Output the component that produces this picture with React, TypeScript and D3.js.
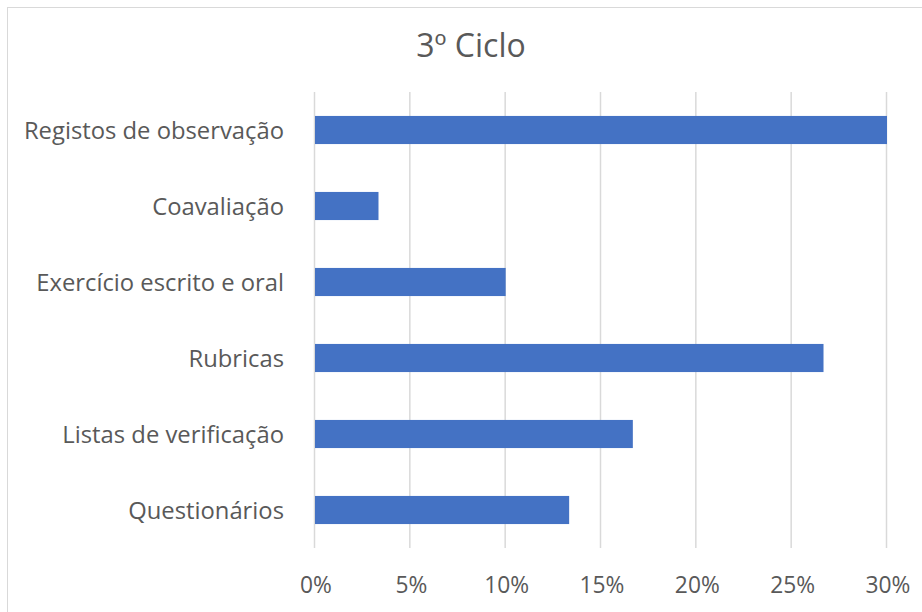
import React, { useEffect, useRef } from "react";
import * as d3 from "d3";

const categories = [
  "Registos de observação",
  "Coavaliação",
  "Exercício escrito e oral",
  "Rubricas",
  "Listas de verificação",
  "Questionários",
];
const values = [30, 3.33, 10, 26.67, 16.67, 13.33];
const xTicks = [0, 5, 10, 15, 20, 25, 30];
const title = "3º Ciclo";

const W = 922;
const H = 612;
const FONT = "'Open Sans', Lato, sans-serif";

export default function App() {
  const ref = useRef<SVGSVGElement | null>(null);

  useEffect(() => {
    const svg = d3.select(ref.current);
    svg.selectAll("*").remove();

    const x = d3.scaleLinear().domain([0, 30]).range([314, 886]);
    const y = d3
      .scaleBand()
      .domain(categories)
      .range([92, 548])
      .paddingInner(0.63)
      .paddingOuter(0.315);

    svg.append("rect")
      .attr("x", 7.5)
      .attr("y", 7.5)
      .attr("width", W + 20)
      .attr("height", H + 20)
      .attr("fill", "#fff")
      .attr("stroke", "#d9d9d9");

    svg.append("text")
      .attr("x", 471)
      .attr("y", 57)
      .attr("text-anchor", "middle")
      .attr("font-family", FONT)
      .attr("font-size", 32)
      .attr("fill", "#595959")
      .text(title);

    svg.append("g")
      .selectAll("line")
      .data(xTicks)
      .join("line")
      .attr("x1", d => x(d) + 0.5)
      .attr("x2", d => x(d) + 0.5)
      .attr("y1", 92)
      .attr("y2", 548)
      .attr("stroke", "#d9d9d9")
      .attr("stroke-width", 1.5);

    svg.append("g")
      .selectAll("rect")
      .data(values)
      .join("rect")
      .attr("x", x(0) + 1)
      .attr("y", (_, i) => y(categories[i])!)
      .attr("width", d => x(d) - x(0))
      .attr("height", y.bandwidth())
      .attr("fill", "#4472c4");

    svg.append("g")
      .selectAll("text")
      .data(categories)
      .join("text")
      .attr("x", 284)
      .attr("y", d => y(d)! + y.bandwidth() / 2)
      .attr("dy", "0.36em")
      .attr("text-anchor", "end")
      .attr("font-family", FONT)
      .attr("font-size", 23.8)
      .attr("fill", "#595959")
      .text(d => d);

    svg.append("g")
      .selectAll("text")
      .data(xTicks)
      .join("text")
      .attr("x", d => x(d) + 2)
      .attr("y", 593)
      .attr("text-anchor", "middle")
      .attr("font-family", FONT)
      .attr("font-size", 22.8)
      .attr("fill", "#595959")
      .text(d => `${d}%`);
  }, []);

  return (
    <svg
      ref={ref}
      width={W}
      height={H}
      style={{ position: "absolute", left: 0, top: 0 }}
    />
  );
}
